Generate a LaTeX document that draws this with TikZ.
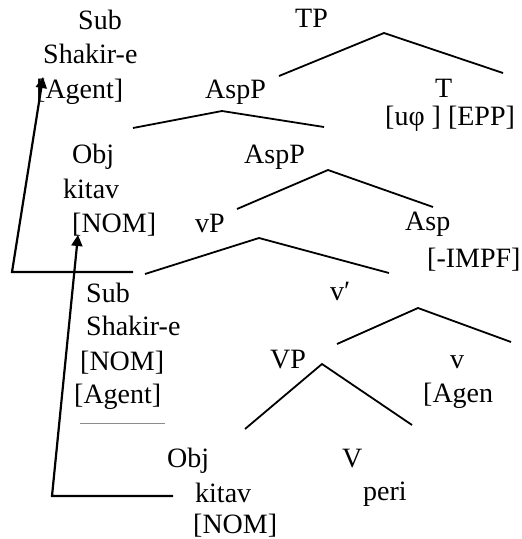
\documentclass[tikz,border=0pt]{standalone}
\usepackage{fontspec}
\setmainfont{Liberation Serif}
\usetikzlibrary{arrows.meta}
\begin{document}
\begin{tikzpicture}[x=1pt,y=-1pt,
  lbl/.style={anchor=base west,inner sep=0pt,font=\fontsize{28}{34}\selectfont},
  branch/.style={line width=1.8pt},
  move/.style={line width=2.2pt,-{Triangle[length=11pt,width=11pt]}}]
\useasboundingbox (0,0) rectangle (522,539);

% labels
\node[lbl] (sub1) at (78,29) {Sub};
\node[lbl] (shk1) at (43,63) {Shakir-e};
\node[lbl] (agt1) at (36,98) {[Agent]};
\node[lbl] (tp) at (295,27) {TP};
\node[lbl] (aspp1) at (205,98) {AspP};
\node[lbl] (t) at (435,97) {T};
\node[lbl] (tfeat) at (385,125) {[uφ ] [EPP]};
\node[lbl] (obj1) at (72,163) {Obj};
\node[lbl] (kit1) at (63,198) {kitav};
\node[lbl] (nom1) at (72,232) {[NOM]};
\node[lbl] (aspp2) at (244,163) {AspP};
\node[lbl] (vp) at (195,232) {vP};
\node[lbl] (asp) at (405,230) {Asp};
\node[lbl] (impf) at (427,267) {[-IMPF]};
\node[lbl] (sub2) at (86,302) {Sub};
\node[lbl] (shk2) at (86,335) {Shakir-e};
\node[lbl] (nom2) at (80,370) {[NOM]};
\node[lbl] (agt2) at (74,403) {[Agent]};
\node[lbl] (vbar) at (330,300) {v′};
\node[lbl] (VP) at (270,368) {VP};
\node[lbl] (v) at (450,368) {v};
\node[lbl] (agen) at (423,402) {[Agen};
\node[lbl] (obj2) at (167,467) {Obj};
\node[lbl] (kit2) at (195,502) {kitav};
\node[lbl] (nom3) at (193,533) {[NOM]};
\node[lbl] (V) at (342,467) {V};
\node[lbl] (peri) at (363,500) {peri};

% branch points
\coordinate (tpL) at (279,76);  \coordinate (tpA) at (384,33);  \coordinate (tpR) at (503,73);
\coordinate (a1L) at (133,128); \coordinate (a1A) at (222,111); \coordinate (a1R) at (324,127);
\coordinate (a2L) at (237,209); \coordinate (a2A) at (328,170); \coordinate (a2R) at (433,207);
\coordinate (vpL) at (145,274); \coordinate (vpA) at (259,238); \coordinate (vpR) at (389,273);
\coordinate (vbL) at (337,344); \coordinate (vbA) at (418,308); \coordinate (vbR) at (511,342);
\coordinate (VPL) at (245,429); \coordinate (VPA) at (322,364); \coordinate (VPR) at (412,425);

% tree branches
\draw[branch] (tpL) -- (tpA) -- (tpR);
\draw[branch] (a1L) -- (a1A) -- (a1R);
\draw[branch] (a2L) -- (a2A) -- (a2R);
\draw[branch] (vpL) -- (vpA) -- (vpR);
\draw[branch] (vbL) -- (vbA) -- (vbR);
\draw[branch] (VPL) -- (VPA) -- (VPR);

% faint rule under the lower subject
\coordinate (ruleL) at (80,423); \coordinate (ruleR) at (165,423);
\draw[line width=0.8pt,black!45] (ruleL) -- (ruleR);

% movement arrows
\coordinate (m1s) at (133,272); \coordinate (m1c) at (12,272); \coordinate (m1t) at (43,77);
\coordinate (m2s) at (173,496); \coordinate (m2c) at (52,496); \coordinate (m2t) at (78,235);
\draw[move] (m1s) -- (m1c) -- (m1t);
\draw[move] (m2s) -- (m2c) -- (m2t);
\end{tikzpicture}
\end{document}
